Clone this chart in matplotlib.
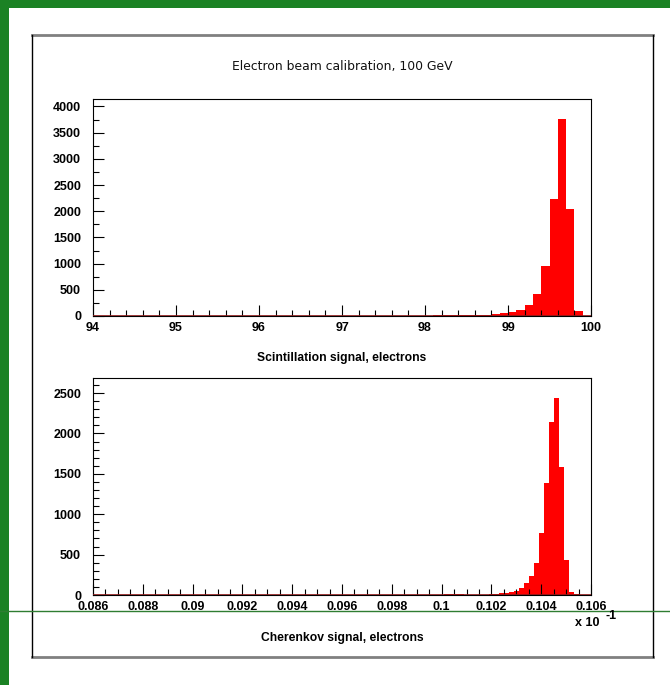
import matplotlib.pyplot as plt
import numpy as np
from matplotlib.lines import Line2D
from matplotlib.patches import Rectangle
from matplotlib.ticker import MultipleLocator, FuncFormatter

W, H = 670, 685

# scintillation histogram: 60 bins of 0.1 between 94 and 100
scint_range = (94.0, 100.0)
scint_counts = [0] * 37 + [
    5, 6, 8, 8, 10, 10, 12, 14, 16, 18, 22, 30, 50,   # 97.7 .. 98.9
    70, 110, 210, 415, 963, 2240, 3765, 2035, 100, 0,  # 99.0 .. 99.9
]

# cherenkov histogram: 101 bins of 0.0002 centred on 0.086 .. 0.106
cher_range = (0.0859, 0.1061)
cher_counts = [0] * 71 + [
    15, 18, 16, 14, 6, 6, 5, 6, 6, 8,                  # 0.1002 .. 0.1020
    15, 20, 28, 38, 50, 83, 150, 233, 392,             # 0.1022 .. 0.1038
    771, 1383, 2138, 2442, 1583, 433, 42, 12, 0, 0, 0,  # 0.1040 .. 0.1060
]

title = "Electron beam calibration, 100 GeV"
scint_label = "Scintillation signal, electrons"
cher_label = "Cherenkov signal, electrons"

green = '#1b8224'
bold = dict(family='Liberation Sans', weight='bold', size=9)
label_font = dict(family='Liberation Sans', weight='bold', size=8.7)


def fx(px):
    return px / W


def fy(py):
    return 1 - py / H


def style(ax, xmajor, xminor, ymajor, yminor, fmt):
    ax.xaxis.set_major_locator(MultipleLocator(xmajor))
    ax.xaxis.set_minor_locator(MultipleLocator(xminor))
    ax.yaxis.set_major_locator(MultipleLocator(ymajor))
    ax.yaxis.set_minor_locator(MultipleLocator(yminor))
    ax.xaxis.set_major_formatter(FuncFormatter(fmt))
    ax.yaxis.set_major_formatter(FuncFormatter(lambda v, p: f'{int(round(v))}'))
    ax.tick_params(which='both', direction='in', width=0.8, top=False, right=False)
    ax.tick_params(which='major', length=8)
    ax.tick_params(which='minor', length=4)
    ax.tick_params(axis='x', pad=4.5)
    ax.tick_params(axis='y', pad=8.6)
    for lab in ax.get_xticklabels() + ax.get_yticklabels():
        lab.set_fontproperties(bold)
    for s in ax.spines.values():
        s.set_linewidth(0.8)


def hist(ax, counts, rng):
    counts = np.array(counts, dtype=float)
    edges = np.linspace(rng[0], rng[1], len(counts) + 1)
    ax.stairs(counts, edges, fill=True, color='red', lw=0)
    ax.axhline(0, color='#8b1a1a', lw=1.2, zorder=3)
    ax.set_ylim(0, counts.max() * 1.1)


fig = plt.figure(figsize=(W / 100, H / 100), dpi=100)

ax1 = fig.add_axes([fx(93), fy(316), fx(591) - fx(93), fy(99) - fy(316)])
hist(ax1, scint_counts, scint_range)
ax1.set_xlim(94, 100)
style(ax1, 1, 0.2, 500, 250, lambda v, p: f'{int(round(v))}')

ax2 = fig.add_axes([fx(93), fy(595), fx(591) - fx(93), fy(378) - fy(595)])
hist(ax2, cher_counts, cher_range)
ax2.set_xlim(0.086, 0.106)
style(ax2, 0.002, 0.0005, 500, 100, lambda v, p: f'{round(v, 4):g}')

# titles
fig.text(fx(342.5), fy(66.5), title, ha='center', va='center',
         family='DejaVu Sans', weight='normal', size=8.9, color='#111111')
fig.text(fx(342), fy(357.5), scint_label, ha='center', va='center', **label_font)
fig.text(fx(342), fy(638), cher_label, ha='center', va='center', **label_font)
fig.text(fx(575), fy(623), 'x 10', ha='left', va='center', **bold)
fig.text(fx(606), fy(616), '-1', ha='left', va='center', **bold)

# canvas frame
frame = [
    ((32, 35), (653, 35), '#808080', 2.0),
    ((32, 657), (653, 657), '#808080', 2.0),
    ((32, 35), (32, 657), 'black', 1.0),
    ((653, 35), (653, 657), 'black', 1.0),
]
for (x0, y0), (x1, y1), c, lw in frame:
    fig.add_artist(Line2D([fx(x0), fx(x1)], [fy(y0), fy(y1)],
                          transform=fig.transFigure, color=c, lw=lw))

# green border and stray line
fig.add_artist(Rectangle((0, fy(8)), 1, 8 / H, transform=fig.transFigure,
                         color=green, lw=0))
fig.add_artist(Rectangle((0, 0), fx(8.7), 1, transform=fig.transFigure,
                         color=green, lw=0))
fig.add_artist(Line2D([0, 1], [fy(611), fy(611)], transform=fig.transFigure,
                      color='#2f7d32', lw=1.0))

fig.savefig('out.png', dpi=100)
